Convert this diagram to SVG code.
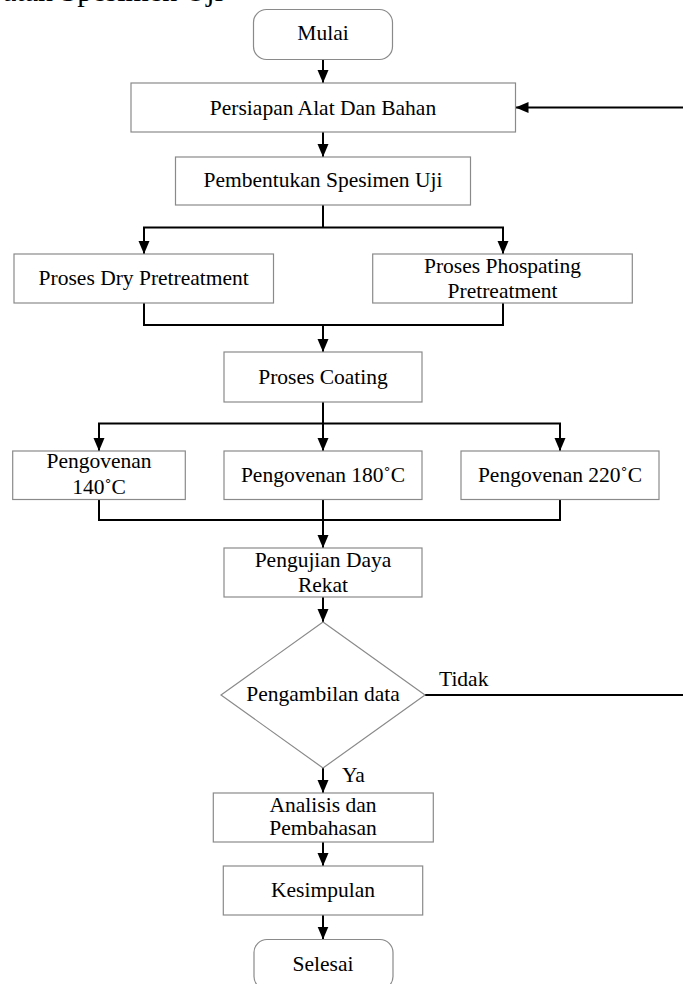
<svg xmlns="http://www.w3.org/2000/svg" width="683" height="984" viewBox="0 0 683 984">
  <style>
    .box { fill: #ffffff; stroke: #8a8a8a; stroke-width: 1.2; }
    .t { font-family: "Liberation Serif", "Times New Roman", serif; font-size: 21.5px; fill: #000; text-anchor: middle; }
    .lbl { font-family: "Liberation Serif", "Times New Roman", serif; font-size: 21.5px; fill: #000; }
    .c { fill: none; stroke: #000; stroke-width: 2; }
    .ca { fill: none; stroke: #000; stroke-width: 2; marker-end: url(#ah); }
  </style>
  <defs>
    <marker id="ah" markerUnits="userSpaceOnUse" markerWidth="14" markerHeight="12" refX="13" refY="5.5" orient="auto">
      <path d="M0,0 L13,5.5 L0,11 z" fill="#000"/>
    </marker>
  </defs>
  <rect width="683" height="984" fill="#ffffff"/>

  <text class="lbl" x="3" y="0.5" style="font-size:30px">atan Spesimen Uji</text>

  <g id="connectors">
    <line class="ca" x1="323" y1="59" x2="323" y2="83"/>
    <line class="ca" x1="323" y1="132" x2="323" y2="157"/>
    <polyline class="c" points="323,205 323,227.5"/>
    <polyline class="ca" points="323,227.5 144,227.5 144,254"/>
    <polyline class="ca" points="323,227.5 503,227.5 503,254"/>
    <polyline class="c" points="144,303 144,325 503,325 503,303"/>
    <line class="ca" x1="323" y1="325" x2="323" y2="352"/>
    <polyline class="c" points="323,402 323,423.5"/>
    <polyline class="ca" points="323,423.5 99,423.5 99,451"/>
    <line class="ca" x1="323" y1="423.5" x2="323" y2="451"/>
    <polyline class="ca" points="323,423.5 560,423.5 560,451"/>
    <polyline class="c" points="99,499.5 99,520 560,520 560,499.5"/>
    <line class="c" x1="323" y1="499.5" x2="323" y2="520"/>
    <line class="ca" x1="323" y1="520" x2="323" y2="548"/>
    <line class="ca" x1="323" y1="597" x2="323" y2="622"/>
    <line class="ca" x1="323" y1="768" x2="323" y2="793"/>
    <line class="ca" x1="323" y1="842" x2="323" y2="866"/>
    <line class="ca" x1="323" y1="915" x2="323" y2="939.5"/>
    <line class="c" x1="425" y1="695" x2="683" y2="695"/>
    <line class="ca" x1="683" y1="107.5" x2="515.5" y2="107.5"/>
    <text class="lbl" x="439" y="686">Tidak</text>
    <text class="lbl" x="342" y="782">Ya</text>
  </g>

  <g id="mulai">
    <rect class="box" x="253.5" y="9.5" width="139" height="50" rx="13"/>
    <text class="t" x="323" y="39.5">Mulai</text>
  </g>
  <g id="persiapan">
    <rect class="box" x="131" y="83" width="384.5" height="49"/>
    <text class="t" x="323" y="115">Persiapan Alat Dan Bahan</text>
  </g>
  <g id="pembentukan">
    <rect class="box" x="175.5" y="157" width="295" height="48"/>
    <text class="t" x="323" y="187">Pembentukan Spesimen Uji</text>
  </g>
  <g id="dry">
    <rect class="box" x="14" y="254" width="259.5" height="49"/>
    <text class="t" x="143.7" y="284.5">Proses Dry Pretreatment</text>
  </g>
  <g id="phospating">
    <rect class="box" x="372.7" y="254" width="259.6" height="49"/>
    <text class="t" x="502.5" y="273">Proses Phospating</text>
    <text class="t" x="502.5" y="297.5">Pretreatment</text>
  </g>
  <g id="coating">
    <rect class="box" x="224" y="352" width="198" height="50"/>
    <text class="t" x="323" y="384">Proses Coating</text>
  </g>
  <g id="oven140">
    <rect class="box" x="12.7" y="451" width="172.6" height="48.5"/>
    <text class="t" x="99" y="468">Pengovenan</text>
    <text class="t" x="99" y="494">140˚C</text>
  </g>
  <g id="oven180">
    <rect class="box" x="224" y="451" width="198" height="48.5"/>
    <text class="t" x="323" y="482">Pengovenan 180˚C</text>
  </g>
  <g id="oven220">
    <rect class="box" x="461" y="451" width="198" height="48.5"/>
    <text class="t" x="560" y="482">Pengovenan 220˚C</text>
  </g>
  <g id="pengujian">
    <rect class="box" x="224" y="548" width="198" height="49"/>
    <text class="t" x="323" y="567">Pengujian Daya</text>
    <text class="t" x="323" y="592">Rekat</text>
  </g>
  <g id="pengambilan">
    <polygon class="box" points="323,622 425,695 323,768 221,695"/>
    <text class="t" x="323" y="701">Pengambilan data</text>
  </g>
  <g id="analisis">
    <rect class="box" x="213.3" y="793" width="220" height="49"/>
    <text class="t" x="323" y="812">Analisis dan</text>
    <text class="t" x="323" y="835">Pembahasan</text>
  </g>
  <g id="kesimpulan">
    <rect class="box" x="223.3" y="866" width="199.4" height="49"/>
    <text class="t" x="323" y="897">Kesimpulan</text>
  </g>
  <g id="selesai">
    <rect class="box" x="254" y="939.5" width="139" height="50" rx="13"/>
    <text class="t" x="323" y="971">Selesai</text>
  </g>
</svg>
